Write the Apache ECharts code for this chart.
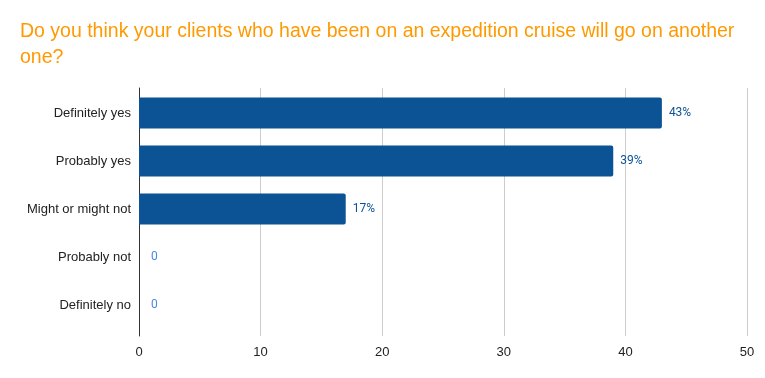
<!DOCTYPE html>
<html><head><meta charset="utf-8">
<script src="https://cdn.jsdelivr.net/npm/echarts@6/dist/echarts.min.js"></script>
<style>html,body{margin:0;padding:0;background:#fff}#c{width:765px;height:378px}</style>
</head><body><div id="c"></div>
<script>
const titleText = "Do you think your clients who have been on an expedition cruise will go on another\none?";
const categories = ["Definitely yes", "Probably yes", "Might or might not", "Probably not", "Definitely no"];
const values = [43, 39, 17, 0, 0];
const labels = ["43%", "39%", "17%", "0", "0"];
const xTicks = [0, 10, 20, 30, 40, 50];

const chart = echarts.init(document.getElementById('c'), null, {renderer: 'canvas'});
const data = values.map((v, i) => ({
  value: v,
  label: v === 0 ? {color: '#4a86e8', distance: 12} : {}
}));
const font = 'Liberation Sans, Arial';
chart.setOption({
  animation: false,
  title: {
    text: titleText, left: 15, top: 14,
    textStyle: {color: '#ff9900', fontFamily: font, fontSize: 19.5, fontWeight: 'normal', lineHeight: 26}
  },
  grid: [
    {left: 139, right: 18, top: 89, height: 240, containLabel: false},
    {left: 139, right: 18, top: 88, bottom: 42, containLabel: false}
  ],
  xAxis: [
    {
      type: 'value', gridIndex: 0, min: xTicks[0], max: xTicks[xTicks.length - 1], interval: 10,
      axisLine: {show: false}, axisTick: {show: false}, splitLine: {show: false}, axisLabel: {show: false}
    },
    {
      type: 'value', gridIndex: 1, min: xTicks[0], max: xTicks[xTicks.length - 1], interval: 10,
      axisLine: {show: false}, axisTick: {show: false},
      splitLine: {lineStyle: {color: '#cccccc', width: 1}},
      axisLabel: {color: '#222', fontFamily: font, fontSize: 13, margin: 10}
    }
  ],
  yAxis: [
    {
      type: 'category', gridIndex: 0, data: categories, inverse: true,
      axisLine: {show: false}, axisTick: {show: false},
      axisLabel: {color: '#222', fontFamily: font, fontSize: 13, margin: 8}
    },
    {
      type: 'value', gridIndex: 1, min: 0, max: 1,
      axisLine: {show: true, lineStyle: {color: '#333', width: 1}},
      axisTick: {show: false}, axisLabel: {show: false}, splitLine: {show: false}
    }
  ],
  series: [{
    type: 'bar', xAxisIndex: 0, yAxisIndex: 0, data: data, barCategoryGap: '35%', z: 3,
    itemStyle: {color: '#0b5394', borderRadius: [0, 2, 2, 0]},
    label: {
      show: true, position: 'right', distance: 7,
      color: '#0b5394', fontFamily: 'Roboto, Liberation Sans, Arial', fontSize: 12,
      formatter: p => labels[p.dataIndex]
    }
  }]
});
</script></body></html>
